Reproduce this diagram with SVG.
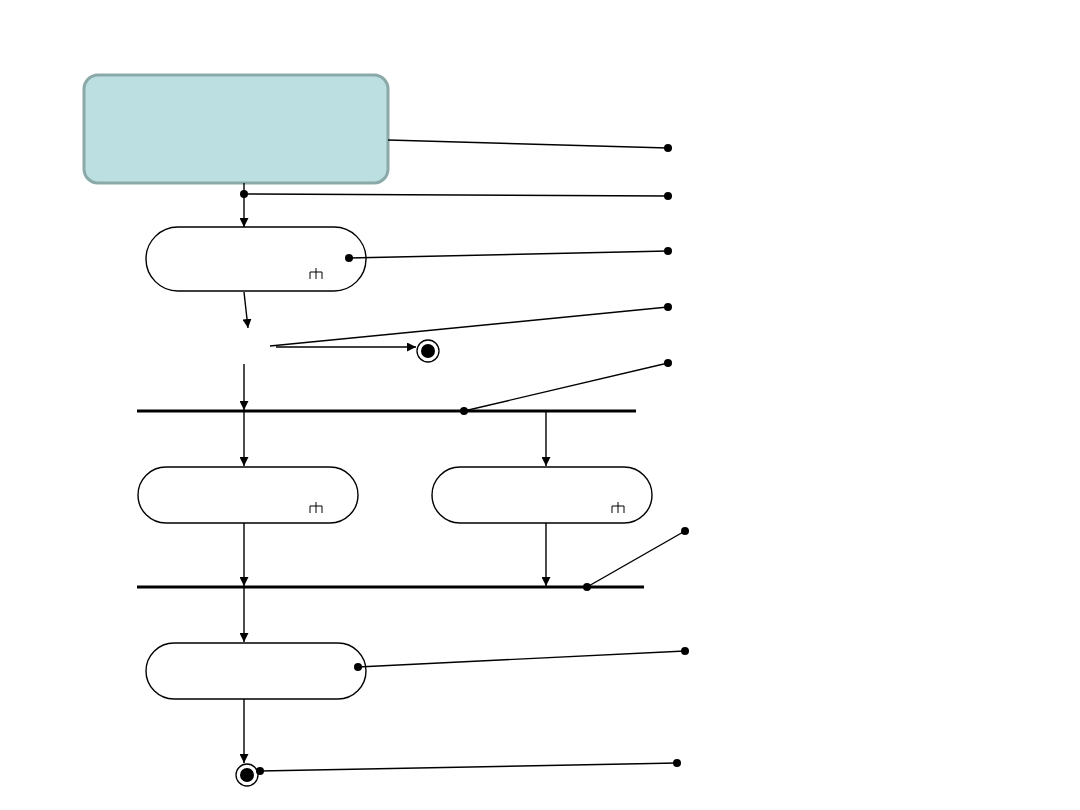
<svg xmlns="http://www.w3.org/2000/svg" width="1080" height="810" viewBox="0 0 1080 810">
<style>
.act{fill:#fff;stroke:#000;stroke-width:1.4}
.ln{stroke:#000;stroke-width:1.4;fill:none}
.bar{stroke:#000;stroke-width:3}
.rake{stroke:#000;stroke-width:1;fill:none}
</style>
<defs>
<marker id="ah" viewBox="0 0 10 10" refX="10" refY="5" markerWidth="9" markerHeight="9" markerUnits="userSpaceOnUse" orient="auto"><path d="M0,0 L10,5 L0,10 z" fill="#000"/></marker>
<g id="rk"><path class="rake" d="M0,-4 V7 M-6,7 V0 H6 V7"/></g>
</defs>
<rect width="1080" height="810" fill="#fff"/>
<g id="start-box"><rect x="84" y="75" width="304" height="108" rx="14" fill="#BCDFE2" stroke="#8BA9A9" stroke-width="3"/></g>
<g id="act1"><rect class="act" x="146" y="227" width="220" height="64" rx="32"/><use href="#rk" x="316" y="272"/></g>
<g id="final1"><circle cx="428" cy="351" r="11" fill="#fff" stroke="#000" stroke-width="1.3"/><circle cx="428" cy="351" r="7" fill="#000"/></g>
<g id="fork"><line class="bar" x1="137" y1="411" x2="636" y2="411"/></g>
<g id="act2"><rect class="act" x="138" y="467" width="220" height="56" rx="28"/><use href="#rk" x="316" y="506"/></g>
<g id="act3"><rect class="act" x="432" y="467" width="220" height="56" rx="28"/><use href="#rk" x="618" y="506"/></g>
<g id="join"><line class="bar" x1="137" y1="587" x2="644" y2="587"/></g>
<g id="act4"><rect class="act" x="146" y="643" width="220" height="56" rx="28"/></g>
<g id="final2"><circle cx="247" cy="775" r="11" fill="#fff" stroke="#000" stroke-width="1.3"/><circle cx="247" cy="775" r="7" fill="#000"/></g>
<g id="connectors">
<path class="ln" d="M388,140 L668,148"/>
<path class="ln" d="M244,194 L668,196"/>
<path class="ln" d="M244,183 L244,227" marker-end="url(#ah)"/>
<path class="ln" d="M349,258 L668,251"/>
<path class="ln" d="M244,292 L248,328" marker-end="url(#ah)"/>
<path class="ln" d="M270,346 L668,307"/>
<path class="ln" d="M276,347 L416,347" marker-end="url(#ah)"/>
<path class="ln" d="M244,364 L244,410" marker-end="url(#ah)"/>
<path class="ln" d="M464,411 L668,363"/>
<path class="ln" d="M244,412 L244,466" marker-end="url(#ah)"/>
<path class="ln" d="M546,412 L546,466" marker-end="url(#ah)"/>
<path class="ln" d="M244,523 L244,586" marker-end="url(#ah)"/>
<path class="ln" d="M546,523 L546,586" marker-end="url(#ah)"/>
<path class="ln" d="M587,587 L685,531"/>
<path class="ln" d="M244,588 L244,642" marker-end="url(#ah)"/>
<path class="ln" d="M358,667 L685,651"/>
<path class="ln" d="M244,699 L244,763" marker-end="url(#ah)"/>
<path class="ln" d="M260,771 L677,763"/>
<g fill="#000">
<circle cx="668" cy="148" r="4"/>
<circle cx="244" cy="194" r="4"/>
<circle cx="668" cy="196" r="4"/>
<circle cx="349" cy="258" r="4"/>
<circle cx="668" cy="251" r="4"/>
<circle cx="668" cy="307" r="4"/>
<circle cx="464" cy="411" r="4"/>
<circle cx="668" cy="363" r="4"/>
<circle cx="587" cy="587" r="4"/>
<circle cx="685" cy="531" r="4"/>
<circle cx="358" cy="667" r="4"/>
<circle cx="685" cy="651" r="4"/>
<circle cx="260" cy="771" r="4"/>
<circle cx="677" cy="763" r="4"/>
</g>
</g>
</svg>
